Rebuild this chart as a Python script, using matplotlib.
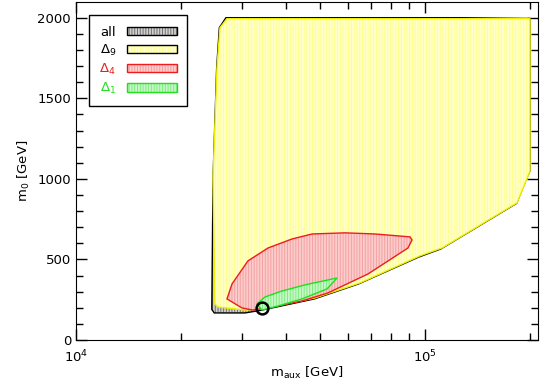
import numpy as np
import matplotlib.pyplot as plt
from matplotlib.patches import Patch

plt.rcParams['font.family'] = ['DejaVu Sans']
plt.rcParams['mathtext.default'] = 'regular'
plt.rcParams['hatch.linewidth'] = 0.7

# region outlines (m_aux in GeV, m_0 in GeV)
all_x = [26900, 126000, 200000, 200000, 194000, 183000, 111000, 96000, 64500,
         48200, 34000, 30500, 24900, 24500, 24700, 25300, 25750]
all_y = [2000, 2000, 1995, 1050, 985, 848, 565, 515, 348,
         255, 185, 168, 168, 190, 1006, 1689, 1938]

d9_x = [27080, 200000, 200000, 194800, 183500, 111900, 96700, 65100,
        48400, 34100, 30500, 25500, 25000, 24700, 25350, 25860]
d9_y = [1994, 1994, 1050, 988, 851, 571, 522, 354,
        261, 193, 186, 205, 224, 1006, 1689, 1938]

d4_x = [27080, 28000, 31100, 35500, 41600, 47500, 59000, 71900, 90600,
        91800, 89400, 68700, 52700, 44400, 36400, 32100, 29900]
d4_y = [255, 348, 491, 571, 627, 658, 665, 658, 640,
        621, 571, 410, 292, 242, 205, 186, 199]

d1_x = [33000, 34800, 38900, 45300, 56000, 52400, 44400, 37900, 34100]
d1_y = [224, 267, 304, 342, 385, 317, 255, 211, 186]

best_x = [34100]
best_y = [199]

# (fill, hatch colour, outline)
styles = {
    'all': ('#d0d0d0', '#707070', 'black'),
    'd9': ('#ffffcc', '#ffff88', '#eeee00'),
    'd4': ('#fccccc', '#f4a0a0', '#ee1c1c'),
    'd1': ('#c8f8c8', '#7cec7c', '#1ee01e'),
}

fig = plt.figure(figsize=(5.4, 3.82), dpi=100)
ax = fig.add_axes([0.1407, 0.1099, 0.8556, 0.886])

regions = [('all', all_x, all_y), ('d9', d9_x, d9_y), ('d4', d4_x, d4_y), ('d1', d1_x, d1_y)]
for i, (key, xs, ys) in enumerate(regions):
    fc, hc, ec = styles[key]
    ax.fill(xs, ys, facecolor=fc, edgecolor=hc, hatch='||||||', lw=0, zorder=1 + i)
    ax.fill(xs, ys, fill=False, edgecolor=ec, lw=1.0, zorder=1 + i)
ax.plot(best_x, best_y, 'o', mfc='none', mec='black', ms=8.5, mew=1.8, zorder=6)

ax.set_xscale('log')
ax.set_xlim(1e4, 2.108e5)
ax.set_ylim(0, 2100)
ax.set_yticks([0, 500, 1000, 1500, 2000])
ax.set_yticks(np.arange(0, 2100, 100), minor=True)
ax.tick_params(which='both', direction='in', top=True, right=True, labelsize=9.5)
ax.tick_params(which='major', length=8, width=1)
ax.tick_params(which='minor', length=5, width=1)
ax.tick_params(axis='x', which='major', pad=6)

ax.set_xlabel('m$_{aux}$ [GeV]', fontsize=9.5, labelpad=0)
ax.set_ylabel('m$_0$ [GeV]', fontsize=9.5)

# legend boxes: hatched fill with an outline drawn on top
handles = []
for key in ['all', 'd9', 'd4', 'd1']:
    fc, hc, ec = styles[key]
    if key == 'd9':
        ec = 'black'
    handles.append((Patch(facecolor=fc, edgecolor=hc, hatch='||||||', lw=0),
                    Patch(fill=False, edgecolor=ec, lw=1.0)))
labels = ['all', r'$\Delta_9$', r'$\Delta_4$', r'$\Delta_1$']
leg = ax.legend(handles, labels, loc='upper left', bbox_to_anchor=(0.028, 0.96),
                borderaxespad=0, markerfirst=False, fontsize=9.5, handlelength=3.8,
                handleheight=0.65, labelspacing=0.3, borderpad=0.8, handletextpad=0.8,
                fancybox=False, edgecolor='black', framealpha=1)
leg.get_frame().set_linewidth(1.0)
for txt, c in zip(leg.get_texts(), ['black', 'black', '#ee1c1c', '#1ee01e']):
    txt.set_color(c)

fig.savefig('out.png', dpi=100)
